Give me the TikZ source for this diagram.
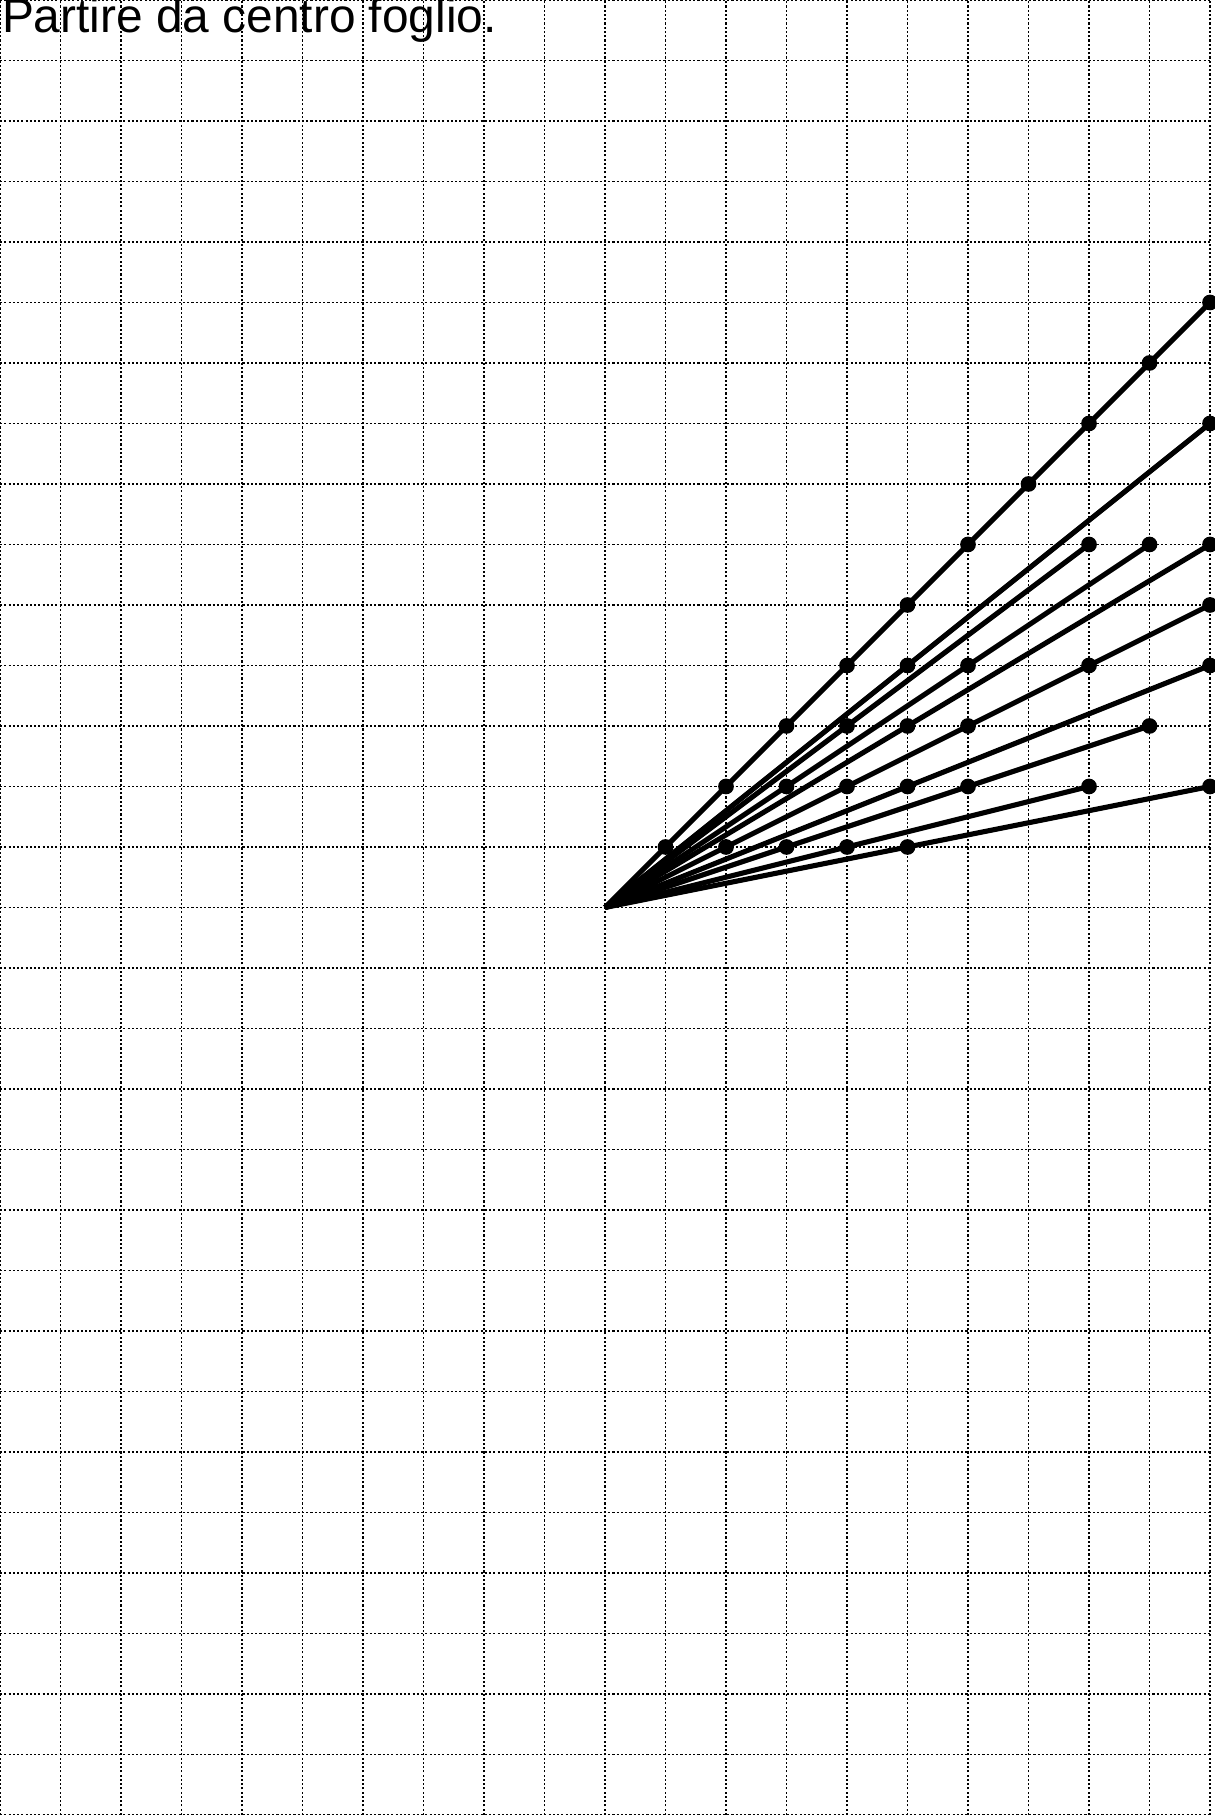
\documentclass[tikz,border=0pt]{standalone}
\usepackage{fontspec}
\setmainfont{Liberation Sans}
\usetikzlibrary{positioning}

\begin{document}
\begin{tikzpicture}[thick,
        gridline/.style={line width=0.5pt,dash pattern=on 1pt off 1pt},
        ray/.style={line width=2.4pt},
        dot/.style={circle,fill,inner sep=0pt,minimum size=0.26cm}]
        \useasboundingbox (0,0) rectangle (20.08,30);
        \draw[gridline] (0,0) grid (20,30);
        \node[anchor=base west,inner sep=0pt,font=\fontsize{22.5}{27}\selectfont] (title) at (0.02,29.47) {Partire da centro foglio.};
        \coordinate (o) at (10,15);
        \node[dot] (a1) at (11,16) {}; \node[dot] (a2) at (12,17) {}; \node[dot] (a3) at (13,18) {}; \node[dot] (a4) at (14,19) {}; \node[dot] (a5) at (15,20) {};
        \node[dot] (a6) at (16,21) {}; \node[dot] (a7) at (17,22) {}; \node[dot] (a8) at (18,23) {}; \node[dot] (a9) at (19,24) {}; \node[dot] (a10) at (20,25) {};
        \node[dot] (b1) at (15,19) {}; \node[dot] (b2) at (20,23) {};
        \node[dot] (c1) at (14,18) {}; \node[dot] (c2) at (18,21) {};
        \node[dot] (d1) at (13,17) {}; \node[dot] (d2) at (16,19) {}; \node[dot] (d3) at (19,21) {};
        \node[dot] (e1) at (15,18) {}; \node[dot] (e2) at (20,21) {};
        \node[dot] (f1) at (12,16) {}; \node[dot] (f2) at (14,17) {}; \node[dot] (f3) at (16,18) {}; \node[dot] (f4) at (18,19) {}; \node[dot] (f5) at (20,20) {};
        \node[dot] (g1) at (15,17) {}; \node[dot] (g2) at (20,19) {};
        \node[dot] (h1) at (13,16) {}; \node[dot] (h2) at (16,17) {}; \node[dot] (h3) at (19,18) {};
        \node[dot] (i1) at (14,16) {}; \node[dot] (i2) at (18,17) {};
        \node[dot] (j1) at (15,16) {}; \node[dot] (j2) at (20,17) {};
        \draw[ray] (o) -- (a10.center);
        \draw[ray] (o) -- (b2.center);
        \draw[ray] (o) -- (c2.center);
        \draw[ray] (o) -- (d3.center);
        \draw[ray] (o) -- (e2.center);
        \draw[ray] (o) -- (f5.center);
        \draw[ray] (o) -- (g2.center);
        \draw[ray] (o) -- (h3.center);
        \draw[ray] (o) -- (i2.center);
        \draw[ray] (o) -- (j2.center);
    \end{tikzpicture}
\end{document}
